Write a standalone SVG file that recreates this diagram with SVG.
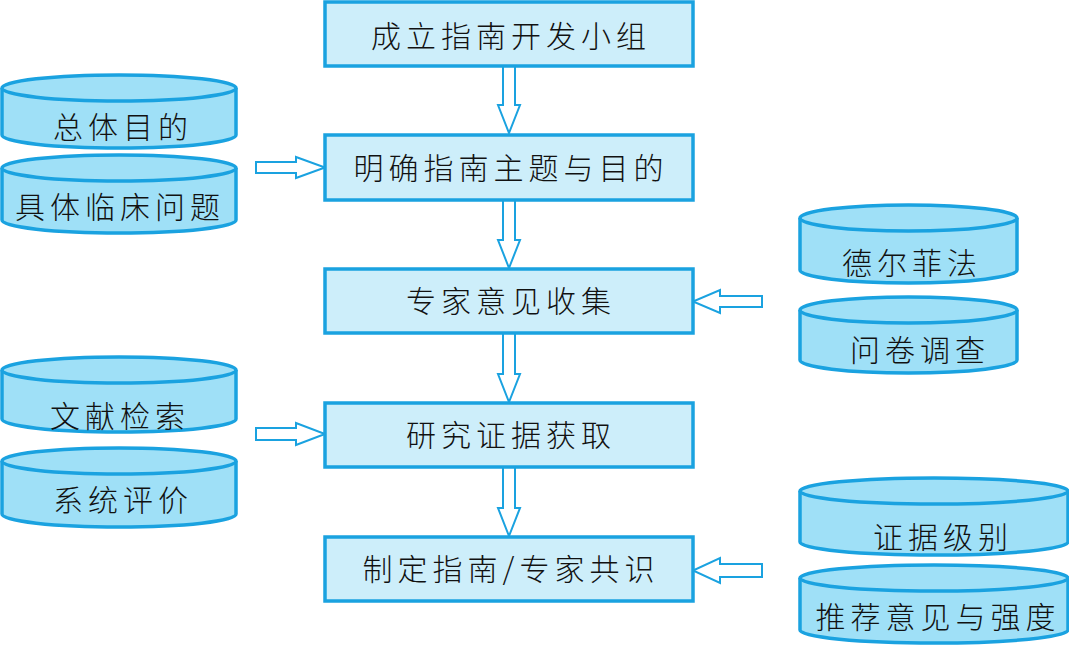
<svg xmlns="http://www.w3.org/2000/svg" width="1069" height="646" viewBox="0 0 1069 646">
<defs>
<style>
.box{fill:#cdeefa;stroke:#1aa2e0;stroke-width:3.5}
.cyl{fill:#9fe0f7;stroke:#1aa2e0;stroke-width:3.5}
.arr{fill:#ffffff;stroke:#1aa2e0;stroke-width:2}
.t{font-family:"Noto Sans CJK SC","Noto Sans CJK JP",sans-serif;font-size:30px;font-weight:300;fill:#111;text-anchor:middle;dominant-baseline:central;letter-spacing:5px}
</style>
</defs>
<rect width="1069" height="646" fill="#ffffff"/>
<g id="connectors">
<polygon class="arr" points="503,66 515,66 515,105 520,105 509,133 498,105 503,105"/>
<polygon class="arr" points="503,200 515,200 515,240 520,240 509,268 498,240 503,240"/>
<polygon class="arr" points="503,333 515,333 515,374 520,374 509,402 498,374 503,374"/>
<polygon class="arr" points="503,467 515,467 515,508 520,508 509,536 498,508 503,508"/>
<polygon class="arr" points="256,162 296,162 296,157 325,167.5 296,178 296,173 256,173"/>
<polygon class="arr" points="256,428 296,428 296,423 325,434 296,445 296,440 256,440"/>
<polygon class="arr" points="762,296 720,296 720,290 693,301.5 720,313 720,307 762,307"/>
<polygon class="arr" points="762,564 720,564 720,558 693,570.5 720,583 720,577 762,577"/>
</g>
<g id="n1"><rect class="box" x="325" y="2" width="368" height="64"/><text class="t" x="511" y="34">成立指南开发小组</text></g>
<g id="n2"><rect class="box" x="325" y="135" width="368" height="65"/><text class="t" x="511" y="166">明确指南主题与目的</text></g>
<g id="n3"><rect class="box" x="325" y="269" width="368" height="64"/><text class="t" x="511" y="299">专家意见收集</text></g>
<g id="n4"><rect class="box" x="325" y="403" width="368" height="64"/><text class="t" x="511" y="433">研究证据获取</text></g>
<g id="n5"><rect class="box" x="325" y="537" width="368" height="64"/><text class="t" x="511" y="567">制定指南/专家共识</text></g>

<g id="c1"><path class="cyl" d="M2,88 A117,13 0 0 1 236,88 L236,135 A117,13 0 0 1 2,135 Z"/><path class="cyl" d="M2,88 A117,13 0 0 0 236,88" fill="none"/><text class="t" x="123" y="125">总体目的</text></g>
<g id="c2"><path class="cyl" d="M2,168 A117,13 0 0 1 236,168 L236,220 A117,13 0 0 1 2,220 Z"/><path class="cyl" d="M2,168 A117,13 0 0 0 236,168" fill="none"/><text class="t" x="120" y="205">具体临床问题</text></g>
<g id="c3"><path class="cyl" d="M800,218 A108.5,13 0 0 1 1017,218 L1017,270 A108.5,13 0 0 1 800,270 Z"/><path class="cyl" d="M800,218 A108.5,13 0 0 0 1017,218" fill="none"/><text class="t" x="912" y="261">德尔菲法</text></g>
<g id="c4"><path class="cyl" d="M800,310 A108.5,13 0 0 1 1017,310 L1017,360 A108.5,13 0 0 1 800,360 Z"/><path class="cyl" d="M800,310 A108.5,13 0 0 0 1017,310" fill="none"/><text class="t" x="920" y="348">问卷调查</text></g>
<g id="c5"><path class="cyl" d="M2,370 A117,13 0 0 1 236,370 L236,419 A117,13 0 0 1 2,419 Z"/><path class="cyl" d="M2,370 A117,13 0 0 0 236,370" fill="none"/><text class="t" x="120" y="414">文献检索</text></g>
<g id="c6"><path class="cyl" d="M2,461 A117,13 0 0 1 236,461 L236,514 A117,13 0 0 1 2,514 Z"/><path class="cyl" d="M2,461 A117,13 0 0 0 236,461" fill="none"/><text class="t" x="123" y="498">系统评价</text></g>
<g id="c7"><path class="cyl" d="M800,491 A134,13 0 0 1 1068,491 L1068,542 A134,13 0 0 1 800,542 Z"/><path class="cyl" d="M800,491 A134,13 0 0 0 1068,491" fill="none"/><text class="t" x="943" y="535">证据级别</text></g>
<g id="c8"><path class="cyl" d="M800,578 A134,13 0 0 1 1068,578 L1068,630 A134,13 0 0 1 800,630 Z"/><path class="cyl" d="M800,578 A134,13 0 0 0 1068,578" fill="none"/><text class="t" x="938" y="615">推荐意见与强度</text></g>
</svg>
